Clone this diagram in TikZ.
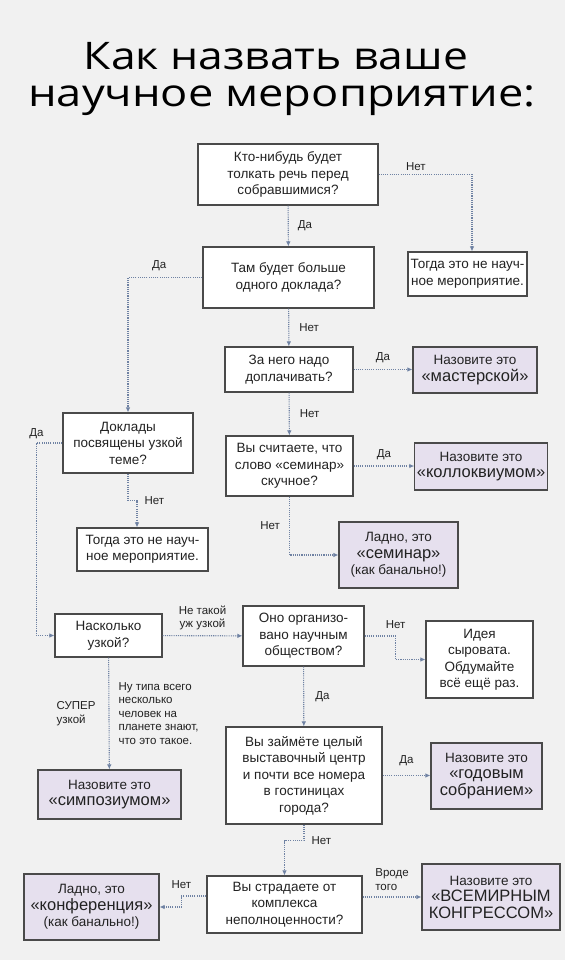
\documentclass[tikz,border=0pt]{standalone}
\usepackage{fontspec}
\setmainfont{Liberation Sans}
\newfontfamily\headfont{Open Sans}
\usetikzlibrary{arrows.meta, positioning, calc}
\definecolor{fcInk}{HTML}{222222}
\definecolor{fcEdge}{HTML}{4A4A4A}
\definecolor{fcLilac}{HTML}{E6E0EE}
\definecolor{fcLink}{HTML}{6F82A3}
\definecolor{fcPaper}{HTML}{F1F1F1}
\newcommand\qfont{\fontsize{13.5}{16.5}\selectfont}
\newcommand\nmfont{\fontsize{16.5}{19}\selectfont}
\newcommand\lblfont{\fontsize{11.5}{13.5}\selectfont}
\newcommand\ttlfont{\headfont\fontsize{38}{44}\selectfont}
\tikzset{
  qbox/.style={
    draw=fcEdge, line width=1.1pt, fill=white, align=center,
    font=\qfont, text=fcInk, inner sep=2pt
  },
  namebox/.style={qbox, fill=fcLilac},
  link/.style={-{Latex[length=5pt,width=4.5pt]}, line width=1.1pt, draw=fcLink,
    dash pattern=on 1.1pt off 1.1pt},
  lbl/.style={font=\lblfont, text=fcInk, inner sep=1pt},
}

\begin{document}
\begin{tikzpicture}[x=1pt, y=-1pt]
  \fill[fcPaper] (0,0) rectangle (565,960);
  \useasboundingbox (0,0) rectangle (565,960);

  % title
  \node[font=\ttlfont, text=black, anchor=base] (t1) at (276,70)
    {\scalebox{1.17}[1]{Как назвать ваше}};
  \node[font=\ttlfont, text=black, anchor=base] (t2) at (282,107)
    {\scalebox{1.19}[1]{научное мероприятие:}};

  \node[qbox, minimum width=180pt, minimum height=61pt] (q1) at (288,174.5)
    {Кто-нибудь будет\\толкать речь перед\\собравшимися?};
  \node[qbox, minimum width=119pt, minimum height=44pt] (nosci1) at (467.5,274)
    {Тогда это не науч-\\ное мероприятие.};
  \node[qbox, minimum width=171pt, minimum height=61pt] (q2) at (288.5,277.5)
    {Там будет больше\\одного доклада?};
  \node[qbox, minimum width=128pt, minimum height=45pt] (q3) at (289,369.5)
    {За него надо\\доплачивать?};
  \node[namebox, minimum width=124pt, minimum height=46pt] (master) at (475,370)
    {Назовите это\\{\nmfont«мастерской»}};
  \node[qbox, minimum width=127pt, minimum height=60pt] (q4) at (289.5,466)
    {Вы считаете, что\\слово «семинар»\\скучное?};
  \node[namebox, minimum width=132pt, minimum height=47pt] (coll) at (481,466.5)
    {Назовите это\\{\nmfont«коллоквиумом»}};
  \node[namebox, minimum width=119pt, minimum height=66pt] (seminar) at (398.5,555)
    {Ладно, это\\{\nmfont«семинар»}\\(как банально!)};
  \node[qbox, minimum width=130pt, minimum height=60pt] (narrow) at (128,443)
    {Доклады\\посвящены узкой\\теме?};
  \node[qbox, minimum width=131pt, minimum height=43pt] (nosci2) at (142.5,549.5)
    {Тогда это не науч-\\ное мероприятие.};
  \node[qbox, minimum width=107pt, minimum height=43pt] (hownarrow) at (108.5,635.5)
    {Насколько\\узкой?};
  \node[namebox, minimum width=143pt, minimum height=49pt] (symp) at (109.5,794.5)
    {Назовите это\\{\nmfont«симпозиумом»}};
  \node[qbox, minimum width=121pt, minimum height=60pt] (society) at (303.5,636)
    {Оно организо-\\вано научным\\обществом?};
  \node[qbox, minimum width=107pt, minimum height=77pt] (raw) at (479.5,659.5)
    {Идея\\сыровата.\\Обдумайте\\всё ещё раз.};
  \node[qbox, minimum width=156pt, minimum height=97pt] (exhib) at (304,775.5)
    {Вы займёте целый\\выставочный центр\\и почти все номера\\в гостиницах\\города?};
  \node[namebox, minimum width=111pt, minimum height=66pt] (annual) at (486.5,776)
    {Назовите это\\{\nmfont«годовым}\\{\nmfont собранием»}};
  \node[qbox, minimum width=155pt, minimum height=57pt] (inferior) at (284.5,904.5)
    {Вы страдаете от\\комплекса\\неполноценности?};
  \node[namebox, minimum width=135pt, minimum height=66pt] (conf) at (91.5,907)
    {Ладно, это\\{\nmfont«конференция»}\\(как банально!)};
  \node[namebox, minimum width=138pt, minimum height=66pt] (world) at (491,897)
    {Назовите это\\{\nmfont«ВСЕМИРНЫМ}\\{\nmfont КОНГРЕССОМ»}};

  \draw[link] (q1.east) -| node[lbl, above=2pt, pos=.2] (lq1n) {Нет} ([xshift=4.5pt]nosci1.north);
  \draw[link] (q1) -- node[lbl, right=8pt] (lq1y) {Да} (q2);
  \draw[link] (q2.west) -| node[lbl, above=5pt, pos=.29] (lq2y) {Да} (narrow.north);
  \draw[link] (q2) -- node[lbl, right=9pt] (lq2n) {Нет} (q3);
  \draw[link] (q3.east) -- node[lbl, above=5pt] (lq3y) {Да} (q3.east -| master.west);
  \draw[link] (q3) -- node[lbl, right=9pt] (lq3n) {Нет} (q4);
  \draw[link] (q4.east) -- node[lbl, above=5pt] (lq4y) {Да} (q4.east -| coll.west);
  \draw[link] (q4.south) |- node[lbl, left=8pt, pos=.25] (lq4n) {Нет} (seminar.west);
  \draw[link] (narrow.west) -- ++(-26,0) node[lbl, above=3pt] (lnry) {Да} |- (hownarrow.west);
  \draw[link] (narrow.south) -- ++(0,27) node[lbl, right=15pt] (lnrn) {Нет}
    -| ([xshift=-5.5pt]nosci2.north);
  \draw[link] (hownarrow) -- node[lbl, above=4pt, align=center] (lhws) {Не такой\\уж узкой} (society);
  \draw[link] (hownarrow) -- node[lbl, left=12pt, align=left] (lhwa) {СУПЕР\\узкой}
    node[lbl, right=8pt, align=left] (lhwb)
    {Ну типа всего\\несколько\\человек на\\планете знают,\\что это такое.} (symp);
  \draw[link] (society.east) -- ++(31,0) node[lbl, above=6pt] (lson) {Нет} |- (raw.west);
  \draw[link] (society) -- node[lbl, right=10pt] (lsoy) {Да} (exhib);
  \draw[link] (exhib.east) -- node[lbl, above=8pt] (lexy) {Да} (exhib.east -| annual.west);
  \draw[link] (exhib.south) -- ++(0,16) node[lbl, right=6pt] (lexn) {Нет} -| (inferior.north);
  \draw[link] ([yshift=8.5pt]inferior.west) -- ++(-25,0) node[lbl, above=6pt] (linn) {Нет}
    |- (conf.east);
  \draw[link] (inferior.east |- world.west) -- node[lbl, above=5pt, align=left] (linv)
    {Вроде\\того} (world.west);
\end{tikzpicture}
\end{document}
